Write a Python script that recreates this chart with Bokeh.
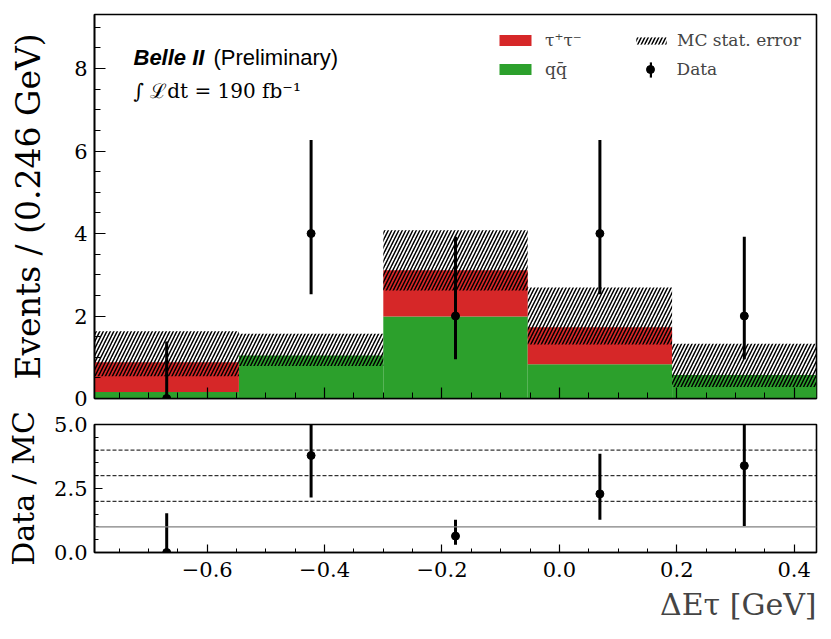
import numpy as np
from bokeh.plotting import figure
from bokeh.models import (Range1d, SingleIntervalTicker, PrintfTickFormatter,
                          CustomJSTickFormatter, Legend, LegendItem, Label, Span,
                          Title)
from bokeh.layouts import column
from bokeh.embed import file_html
from bokeh.resources import INLINE

# ---------------- data ----------------
bin_edges = [-0.792, -0.546, -0.300, -0.054, 0.192, 0.438]
qq_counts = [0.16, 1.04, 1.99, 0.83, 0.57]
tautau_counts = [0.72, 0.00, 1.12, 0.90, 0.00]
mc_err_low = [0.54, 0.79, 2.62, 1.31, 0.28]
mc_err_high = [1.63, 1.57, 4.08, 2.69, 1.33]
data_counts = [0, 4, 2, 4, 2]
data_err_low = [0.0, 2.53, 0.95, 2.53, 0.95]
data_err_high = [1.38, 6.27, 3.92, 6.27, 3.92]
ratio_vals = [0.0, 3.79, 0.64, 2.29, 3.39]
ratio_err_low = [0.0, 2.15, 0.30, 1.28, 1.04]
ratio_err_high = [1.53, 6.0, 1.28, 3.86, 6.8]
ratio_ref_dashed = [2, 3, 4]
ratio_ref_solid = 1

RED = "#d62728"
GREEN = "#2ca02c"
SERIF = "DejaVu Serif"

edges = np.array(bin_edges)
lefts, rights = edges[:-1], edges[1:]
centers = 0.5 * (lefts + rights)
qq = np.array(qq_counts)
tt = np.array(tautau_counts)

xr = Range1d(bin_edges[0], bin_edges[-1])

x_fmt = CustomJSTickFormatter(code="""
const v = Math.round(tick*10)/10;
return (v < 0 ? '\\u2212' : '') + Math.abs(v).toFixed(1);
""")

FIG_W = 823
BORDER_L = 94
BORDER_R = 7
FRAME_W = FIG_W - BORDER_L - BORDER_R
# 3 px expressed in x data units (error-bar thickness)
BAR_W = 3.0 * (bin_edges[-1] - bin_edges[0]) / FRAME_W


def style_axes(p, major_in, minor_in):
    p.grid.visible = False
    p.outline_line_color = "black"
    p.outline_line_width = 1.6
    for ax in (p.xaxis[0], p.yaxis[0]):
        ax.major_tick_in = major_in
        ax.major_tick_out = 0
        ax.minor_tick_in = minor_in
        ax.minor_tick_out = 0
        ax.major_tick_line_width = 1.2
        ax.minor_tick_line_width = 1.0
        ax.major_tick_line_color = "black"
        ax.minor_tick_line_color = "black"
        ax.axis_line_color = "black"
        ax.axis_line_width = 1.6
        ax.major_label_text_font = SERIF
        ax.major_label_text_font_size = "21px"
        ax.major_label_text_color = "black"
        ax.axis_label_text_font = SERIF
        ax.axis_label_text_font_style = "normal"
        ax.axis_label_text_font_size = "30px"
        ax.axis_label_text_color = "black"


# ---------------- main panel ----------------
p1 = figure(width=FIG_W, height=410, x_range=xr, y_range=Range1d(0, 9.31),
            output_backend="svg", toolbar_location=None,
            min_border_left=BORDER_L, min_border_right=BORDER_R,
            min_border_top=14, min_border_bottom=12)
style_axes(p1, 11, 6)
p1.xaxis.ticker = SingleIntervalTicker(interval=0.2, num_minor_ticks=4)
p1.xaxis.major_label_text_font_size = "1px"
p1.xaxis.major_label_text_color = None
p1.xaxis.major_label_standoff = 0
p1.yaxis.ticker = SingleIntervalTicker(interval=2, num_minor_ticks=4)
p1.yaxis.major_label_standoff = 7
p1.yaxis.axis_label = "Events / (0.246 GeV)"
p1.yaxis.axis_label_text_font_size = "33px"
p1.yaxis.axis_label_standoff = 23

r_green = p1.quad(left=lefts, right=rights, bottom=0, top=qq,
                  fill_color=GREEN, line_color=None)
r_red = p1.quad(left=lefts, right=rights, bottom=qq, top=qq + tt,
                fill_color=RED, line_color=None)
r_hatch = p1.quad(left=lefts, right=rights, bottom=mc_err_low, top=mc_err_high,
                  fill_color=None, line_color=None, hatch_pattern="/",
                  hatch_color="black", hatch_weight=1.5, hatch_scale=7)
# data error bars drawn as thin (3 px) bars
r_bar = p1.vbar(x=centers, bottom=data_err_low, top=data_err_high,
                width=BAR_W, fill_color="black", line_color=None)
r_dot = p1.scatter(x=centers, y=data_counts, size=8, color="black")

leg_common = dict(padding=0, margin=0, border_line_color=None,
                  background_fill_alpha=0, label_text_font=SERIF,
                  label_text_font_size="17px", label_height=20, spacing=9)
leg1 = Legend(items=[LegendItem(label="τ⁺τ⁻", renderers=[r_red]),
                     LegendItem(label="qq̄", renderers=[r_green])],
              location=(401, 319), glyph_width=40, glyph_height=14,
              label_standoff=10, **leg_common)
leg_hatch = Legend(items=[LegendItem(label="MC stat. error", renderers=[r_hatch])],
                   location=(538, 348), glyph_width=38, glyph_height=9,
                   label_standoff=7, **leg_common)
leg_data = Legend(items=[LegendItem(label="Data", renderers=[r_bar])],
                  location=(554.5, 319), glyph_width=3, glyph_height=19,
                  label_standoff=25, **leg_common)
leg_dot = Legend(items=[LegendItem(label=" ", renderers=[r_dot])],
                 location=(546, 319), glyph_width=20, glyph_height=20,
                 label_standoff=0, **leg_common)
leg_dot.label_text_color = None
for lg in (leg1, leg_hatch, leg_data, leg_dot):
    p1.add_layout(lg)

p1.add_layout(Label(x=39, y=341, x_units="screen", y_units="screen",
                    text="Belle II", text_font="Liberation Sans",
                    text_font_style="bold italic", text_font_size="22px",
                    text_baseline="alphabetic", text_color="black"))
p1.add_layout(Label(x=119, y=341, x_units="screen", y_units="screen",
                    text="(Preliminary)", text_font="Liberation Sans",
                    text_font_size="22px", text_baseline="alphabetic",
                    text_color="black"))
p1.add_layout(Label(x=39, y=308, x_units="screen", y_units="screen",
                    text="∫ ℒdt  =  190 fb⁻¹", text_font=SERIF,
                    text_font_size="20px", text_baseline="alphabetic",
                    text_color="black"))

# ---------------- ratio panel ----------------
p2 = figure(width=FIG_W, height=229, x_range=xr, y_range=Range1d(0, 5),
            output_backend="svg", toolbar_location=None,
            min_border_left=BORDER_L, min_border_right=BORDER_R,
            min_border_top=14, min_border_bottom=87)
style_axes(p2, 8, 4)
p2.xaxis.ticker = SingleIntervalTicker(interval=0.2, num_minor_ticks=4)
p2.xaxis.formatter = x_fmt
p2.xaxis.major_label_standoff = 9
p2.yaxis.ticker = SingleIntervalTicker(interval=2.5, num_minor_ticks=5)
p2.yaxis.formatter = PrintfTickFormatter(format="%.1f")
p2.yaxis.major_label_standoff = 7
p2.yaxis.axis_label = "Data / MC"
p2.yaxis.axis_label_standoff = 10

p2.add_layout(Span(location=ratio_ref_solid, dimension="width",
                   line_color="gray", line_width=1.2))
for lv in ratio_ref_dashed:
    p2.add_layout(Span(location=lv, dimension="width", line_color="black",
                       line_width=1, line_dash="4 2"))

p2.segment(x0=centers, y0=ratio_err_low, x1=centers, y1=ratio_err_high,
           line_color="black", line_width=3)
p2.scatter(x=centers, y=ratio_vals, size=8, color="black")

# x-axis title, right aligned
x_title = "ΔEτ [GeV]"
try:
    p2.xaxis.axis_label = x_title
    p2.xaxis.axis_label_standoff = 8
    p2.xaxis.axis_label_text_color = "black"
    p2.xaxis[0].axis_label_align = "right"
except Exception:
    p2.xaxis.axis_label = None
    p2.add_layout(Title(text=x_title, align="right", text_font=SERIF,
                        text_font_size="30px", text_font_style="normal"),
                  "below")

layout = column(p1, p2)
open("out.html", "w").write(file_html(layout, INLINE))
